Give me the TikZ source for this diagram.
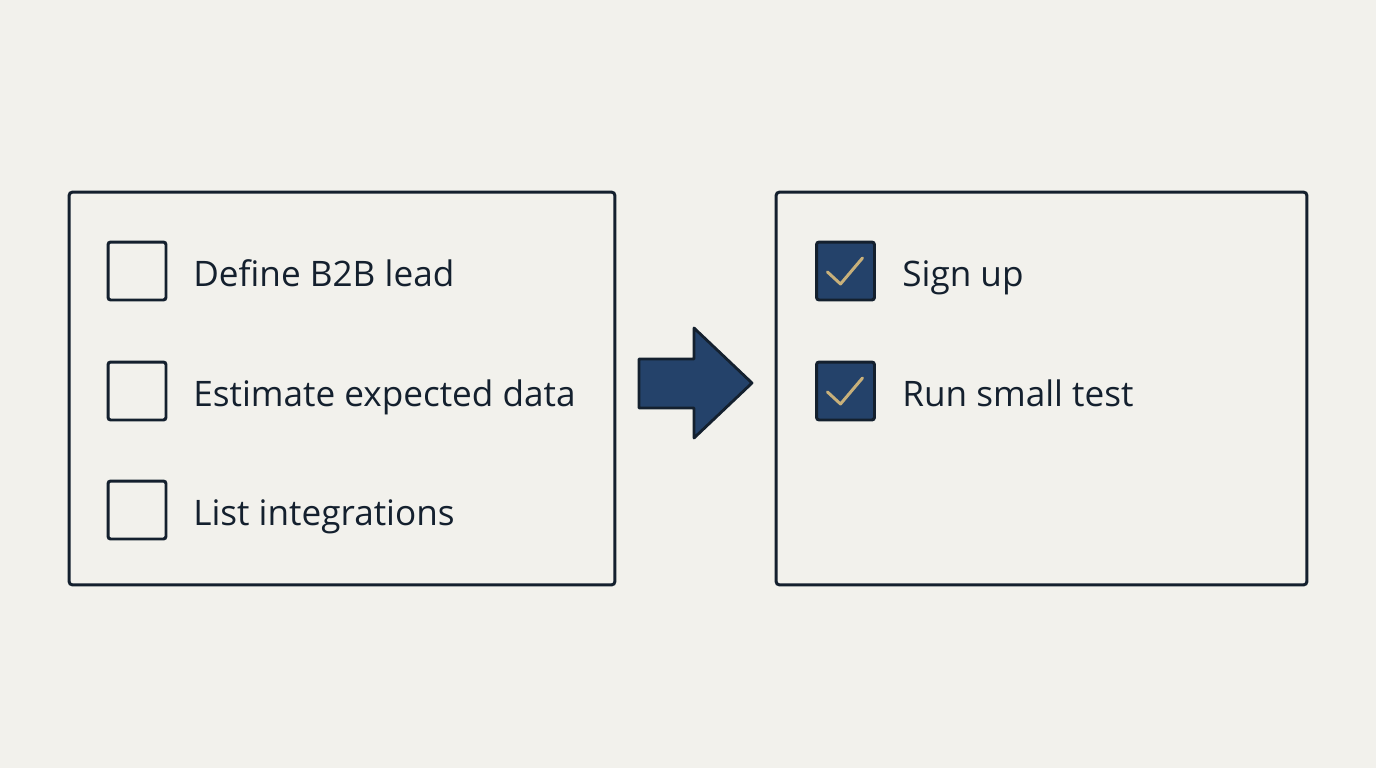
\documentclass[tikz,border=0pt]{standalone}
\usepackage{fontspec}
\setmainfont{Open Sans}
\usepackage{tikz}
\usetikzlibrary{
	arrows.meta,
	positioning,
	calc
}
\usepackage{xcolor}
\definecolor{paper}{HTML}{F2F1EC}
\definecolor{ink}{HTML}{14202E}
\definecolor{navy}{HTML}{24426A}
\definecolor{tan}{HTML}{C8B07A}

\begin{document}
\begin{tikzpicture}[x=0.02cm,y=-0.02cm,
		panel/.style={draw=ink, line width=1.7pt, rounded corners=2pt,
			minimum height=7.86cm, inner sep=0pt},
		box/.style={draw=ink, line width=1.7pt, rounded corners=1.5pt,
			minimum size=1.16cm, inner sep=0pt},
		donebox/.style={box, fill=navy},
		item/.style={anchor=base west, text=ink, inner sep=0pt,
			font=\fontsize{20}{24}\selectfont},
		tick/.style={draw=tan, line width=1.7pt, line cap=round, line join=round}
	]
		
		% Background
		\fill[paper] (0,0) rectangle (1376,768);
		\useasboundingbox (0,0) rectangle (1376,768);
		
		% Panels
		\node[panel, minimum width=10.92cm] (todo) at (342,388.5) {};
		\node[panel, minimum width=10.62cm] (done) at (1041.5,388.5) {};
		
		% Open items
		\node[box] (b1) at (137,271) {};
		\node[box] (b2) at (137,391) {};
		\node[box] (b3) at (137,510) {};
		\node[item] (t1) at (193,286) {Define B2B lead};
		\node[item] (t2) at (193,406) {Estimate expected data};
		\node[item] (t3) at (193,525) {List integrations};
		
		% Finished items
		\node[donebox] (c1) at (845.5,271) {};
		\node[donebox] (c2) at (845.5,391) {};
		\node[item] (s1) at (902,286) {Sign up};
		\node[item] (s2) at (902,406) {Run small test};
		
		\draw[tick] ([shift={(-18,1)}]c1.center) -- ([shift={(-5,13)}]c1.center)
		-- ([shift={(17,-13)}]c1.center);
		\draw[tick] ([shift={(-18,1)}]c2.center) -- ([shift={(-5,13)}]c2.center)
		-- ([shift={(17,-13)}]c2.center);
		
		% Block arrow
		\draw[fill=navy, draw=ink, line width=1.6pt, line join=round]
		(639,359) -- (694,359) -- (694,328) -- (752,383)
		-- (694,438) -- (694,408) -- (639,408) -- cycle;
		
	\end{tikzpicture}
\end{document}
